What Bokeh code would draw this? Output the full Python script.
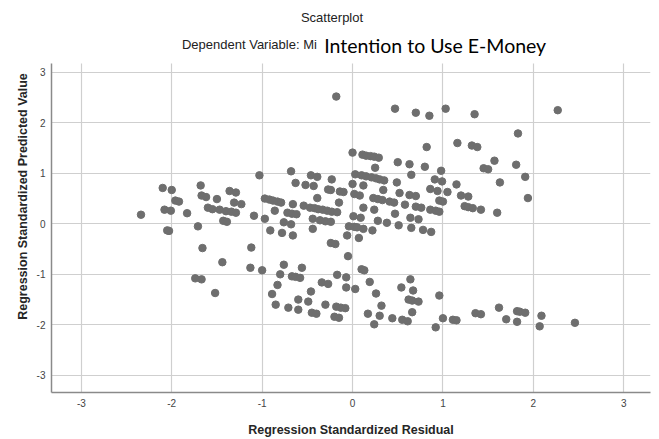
from bokeh.plotting import figure
from bokeh.models import Range1d, FixedTicker, Label
from bokeh.embed import file_html
from bokeh.resources import INLINE

# Regression standardized residual (x) and predicted value (y)
resid = [
    -0.18, 0.47, 0.70, 0.85, 1.03, 1.35, 2.27, 1.83, 0.82, 1.16, 1.32, 1.38, 0.00,
    0.11, 0.15, 0.20, 0.24, 0.29, 0.50, 0.63, 0.80, 0.25, 1.57, 1.45, 1.50, 1.81,
    1.91, 1.63, 1.94, 0.98, 0.65, 0.03, 0.10, 0.15, 0.21, 0.26, 0.30, 0.35, 0.00,
    0.12, 0.49, 0.91, 0.99, 1.15, 0.34, 0.86, 0.94, 1.05, 0.02, 0.08, 0.52, 0.63,
    0.70, 1.20, 1.28, 0.23, 0.28, 0.33, 0.41, 0.46, 0.96, 1.00, 0.58, 0.70, 0.76,
    1.24, 1.28, 1.33, 1.42, 1.60, 0.12, 0.24, 0.86, 0.92, 0.96, 0.47,
    -1.03, -0.68, -0.63, -0.46, -0.39, -0.52, -0.43, -0.23, -0.27, -0.24, -0.14,
    -0.10, -0.39, -0.15, -2.10, -2.00, -1.96, -1.92, -1.68, -1.67, -1.62, -1.50,
    -1.36, -1.29, -1.31, -1.23, -2.08, -2.01, -1.83, -1.60, -1.55, -1.47, -1.40,
    -1.34, -1.29, -1.09, -0.97, -0.92, -0.88, -0.83, -0.79, -0.66, -0.86, -0.72,
    -0.67, -0.62, -0.54, -0.47, -0.42, -0.38, -0.33, -0.28, -0.23, -0.17, -2.34,
    -2.05, -2.03, -1.71, -1.66, -1.44, -1.74, -1.67, -1.52, -1.43, -1.39, -0.97,
    -1.12, -1.13, -1.00, -0.76, -0.68, -0.91, -0.78, -0.66, -0.44, -0.36, -0.30,
    -0.24, -0.44, -0.24, -0.19, -0.05, -0.06, -0.04, -0.76, -0.56, -0.80, -0.67,
    -0.63, -0.58, -0.83, -0.89, -0.85, -0.71, -0.60, -0.60, -0.46, -0.49, -0.45,
    -0.40, -0.30, -0.34, -0.27, -0.17, -0.07, -0.07, -0.18, -0.13, -0.08, -0.20,
    -0.15,
    0.01, 0.09, 0.28, 0.38, 0.51, 0.64, 0.73, 0.65, 0.78, 0.87, 0.02, 0.05, 0.12,
    0.22, 0.07, 0.10, 0.13, 0.03, 0.19, 0.26, 0.32, 0.17, 0.30, 0.24, 0.44, 0.55,
    0.61, 0.54, 0.64, 0.67, 0.62, 0.66, 0.73, 0.66, 0.96, 1.00, 0.92, 1.11, 1.15,
    1.36, 1.42, 1.62, 1.70, 1.82, 1.85, 1.91, 1.82, 2.09, 2.07, 2.46,
]
predicted = [
    2.52, 2.28, 2.20, 2.14, 2.28, 2.17, 2.25, 1.79, 1.52, 1.60, 1.55, 1.52, 1.41,
    1.37, 1.35, 1.34, 1.33, 1.31, 1.22, 1.18, 1.13, 1.11, 1.25, 1.10, 1.08, 1.17,
    0.93, 0.82, 0.51, 1.05, 0.97, 0.98, 0.96, 0.94, 0.92, 0.90, 0.88, 0.86, 0.79,
    0.76, 0.82, 0.88, 0.84, 0.78, 0.67, 0.69, 0.65, 0.63, 0.59, 0.56, 0.61, 0.57,
    0.55, 0.56, 0.54, 0.51, 0.49, 0.47, 0.44, 0.42, 0.46, 0.44, 0.38, 0.34, 0.32,
    0.35, 0.33, 0.31, 0.28, 0.22, 0.32, 0.28, 0.28, 0.26, 0.24, 0.20,
    0.96, 1.04, 0.81, 0.96, 0.93, 0.77, 0.75, 0.88, 0.68, 0.67, 0.64,
    0.63, 0.51, 0.42, 0.71, 0.67, 0.46, 0.44, 0.76, 0.56, 0.53, 0.49,
    0.65, 0.62, 0.42, 0.39, 0.28, 0.26, 0.21, 0.32, 0.29, 0.28, 0.25,
    0.24, 0.22, 0.16, 0.50, 0.48, 0.46, 0.44, 0.42, 0.39, 0.26, 0.22,
    0.20, 0.19, 0.36, 0.32, 0.31, 0.29, 0.28, 0.26, 0.24, 0.23, 0.18,
    -0.13, -0.14, -0.05, -0.48, -0.76, -1.08, -1.10, -1.37, 0.06, 0.04, 0.10,
    -0.47, -0.87, -0.92, 0.03, -0.01, -0.13, -0.18, -0.23, 0.10, 0.07, 0.05,
    0.04, -0.10, -0.38, -0.40, -0.64, -0.23, -0.05, -0.81, -0.87, -1.00, -1.04,
    -1.05, -1.07, -1.21, -1.39, -1.60, -1.66, -1.50, -1.70, -1.34, -1.54, -1.76,
    -1.78, -1.60, -1.16, -1.19, -1.01, -1.06, -1.26, -1.64, -1.66, -1.67, -1.84,
    -1.86,
    0.15, 0.12, 0.06, 0.02, -0.03, 0.12, 0.09, -0.08, -0.12, -0.16, -0.06, -0.07, -0.10,
    -0.13, -0.28, -0.90, -0.92, -1.29, -1.15, -1.38, -1.62, -1.78, -1.82, -1.99, -1.87, -1.90,
    -1.93, -1.26, -1.10, -1.32, -1.50, -1.52, -1.54, -1.75, -1.42, -1.87, -2.05, -1.90, -1.91,
    -1.77, -1.79, -1.66, -1.89, -1.73, -1.74, -1.76, -1.94, -1.82, -2.03, -1.96,
]
tick_values = [-3, -2, -1, 0, 1, 2, 3]
tick_labels = ["-3", "-2", "-1", "0", "1", "2", "3"]

title_text = "Scatterplot"
subtitle_text = "Dependent Variable: Mi"
overlay_text = "Intention to Use E-Money"
x_title = "Regression Standardized Residual"
y_title = "Regression Standardized Predicted Value"

# plotting area of the scatter (data extent shown by axes)
X_MIN, X_MAX = -3.33, 3.296
Y_MIN, Y_MAX = -3.34, 3.175
Y_TOP = 4.422  # room above the data area for the titles

p = figure(width=654, height=439, output_backend="svg", toolbar_location=None,
           x_range=Range1d(X_MIN, X_MAX), y_range=Range1d(Y_MIN, Y_TOP),
           min_border_left=51, min_border_right=4, min_border_top=0,
           min_border_bottom=47)
p.outline_line_color = None
p.background_fill_color = "white"

overrides = {v: s for v, s in zip(tick_values, tick_labels)}
for ax in (p.xaxis[0], p.yaxis[0]):
    ax.ticker = FixedTicker(ticks=tick_values)
    ax.major_label_overrides = overrides
    ax.major_tick_out = 0
    ax.major_tick_in = 0
    ax.minor_tick_out = 0
    ax.minor_tick_in = 0
    ax.axis_line_color = "#8a8a8a"
    ax.axis_line_width = 1.5
    ax.major_label_text_font = "Liberation Sans"
    ax.major_label_text_font_size = "10px"
    ax.major_label_text_color = "#444444"
    ax.axis_label_text_font = "Liberation Sans"
    ax.axis_label_text_font_size = "12.5px"
    ax.axis_label_text_font_style = "bold"
    ax.axis_label_text_color = "#262626"

p.yaxis.bounds = (Y_MIN, Y_MAX)
p.xaxis.axis_label = x_title
p.yaxis.axis_label = y_title
p.xaxis.major_label_standoff = 6
p.xaxis.axis_label_standoff = 13
p.yaxis.major_label_standoff = 6
p.yaxis.axis_label_standoff = 4

p.grid.grid_line_color = "#cfcfcf"
p.grid.grid_line_width = 1.2
p.xgrid.cross_bounds = (Y_MIN, Y_MAX)

p.scatter(resid, predicted, size=7.5, fill_color="#6e6e6e", line_color="#6e6e6e")

p.add_layout(Label(x=-0.227, y=4.086, text=title_text, text_align="center",
                   text_baseline="alphabetic", text_font="Liberation Sans",
                   text_font_size="13px", text_color="#222222"))
p.add_layout(Label(x=-1.887, y=3.545, text=subtitle_text, text_align="left",
                   text_baseline="alphabetic", text_font="Liberation Sans",
                   text_font_size="13px", text_color="#222222"))
p.add_layout(Label(x=-0.313, y=3.526, text=overlay_text, text_align="left",
                   text_baseline="alphabetic", text_font="Lato",
                   text_font_size="19.5px", text_color="#000000"))

open("out.html", "w").write(file_html(p, INLINE))
